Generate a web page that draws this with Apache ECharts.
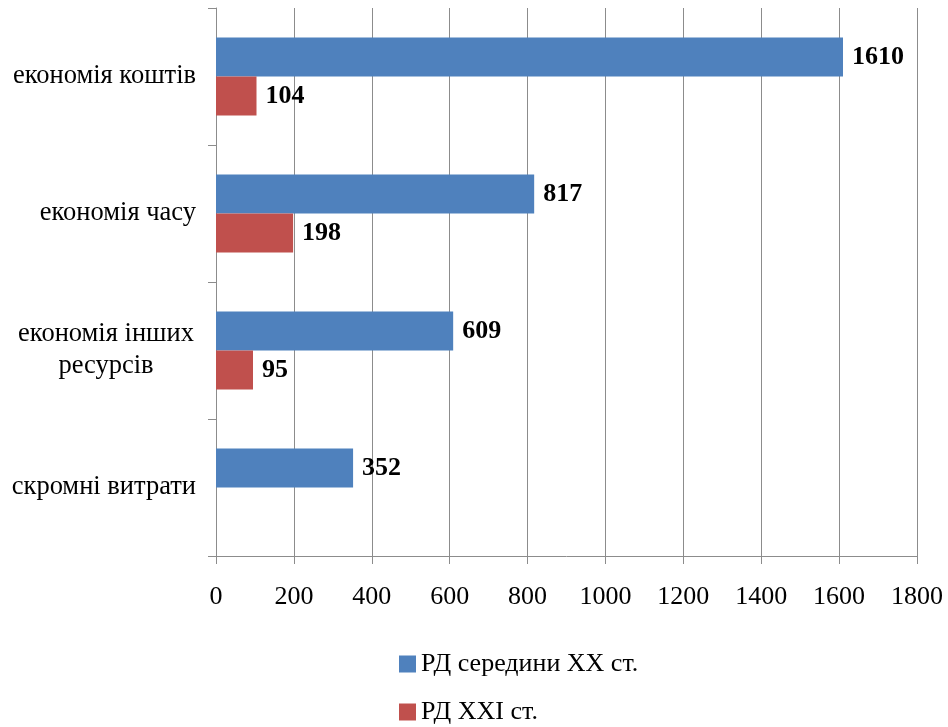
<!DOCTYPE html>
<html>
<head>
<meta charset="utf-8">
<script src="https://cdn.jsdelivr.net/npm/echarts@6/dist/echarts.min.js"></script>
<style>
  html, body { margin: 0; padding: 0; background: #fff; }
  #chart { width: 948px; height: 727px; }
</style>
</head>
<body>
<div id="chart"></div>
<script>
// Categories (top to bottom)
const categories = ['економія коштів', 'економія часу', 'економія інших\nресурсів', 'скромні витрати'];
// Series values
const seriesNames = ['РД середини XX ст.', 'РД XXI ст.'];
const midCentury = [1610, 817, 609, 352];
const century21 = [104, 198, 95, null];
// Value axis ticks
const axisMin = 0;
const axisMax = 1800;
const axisStep = 200;

const FONT = '"Liberation Serif", "Times New Roman", serif';
const GRID_GRAY = '#8c8c8c';
const FS = 26;
const CAT_FS = 26.5;

const chart = echarts.init(document.getElementById('chart'), null, { renderer: 'canvas' });

const labelStyle = {
  show: true,
  position: 'right',
  distance: 9,
  fontFamily: FONT,
  fontSize: FS,
  fontWeight: 'bold',
  color: '#000'
};

chart.setOption({
  animation: false,
  backgroundColor: '#fff',
  grid: { left: 216, right: 31, top: 8, bottom: 171, containLabel: false },
  legend: {
    orient: 'vertical',
    left: 399,
    top: 651,
    padding: 0,
    itemWidth: 17,
    itemHeight: 17,
    itemGap: 22,
    icon: 'rect',
    textStyle: { fontFamily: FONT, fontSize: FS, lineHeight: 26, color: '#000' },
    data: seriesNames
  },
  xAxis: {
    type: 'value',
    min: axisMin,
    max: axisMax,
    interval: axisStep,
    axisLine: { show: true, lineStyle: { color: GRID_GRAY, width: 1 } },
    axisTick: { show: true, length: 8, lineStyle: { color: GRID_GRAY } },
    splitLine: { show: true, lineStyle: { color: GRID_GRAY, width: 1 } },
    axisLabel: {
      fontFamily: FONT, fontSize: FS, color: '#000', margin: 28,
      formatter: function (v) { return String(v); }
    }
  },
  yAxis: {
    type: 'category',
    inverse: true,
    data: categories,
    axisLine: { show: true, lineStyle: { color: GRID_GRAY, width: 1 } },
    axisTick: { show: true, length: 8, lineStyle: { color: GRID_GRAY } },
    axisLabel: {
      fontFamily: FONT,
      fontSize: CAT_FS,
      color: '#000',
      margin: 20,
      lineHeight: 32,
      formatter: function (v) {
        return v.indexOf('\n') >= 0 ? v.split('\n').map(s => '{c|' + s + '}').join('\n') : v;
      },
      rich: {
        c: { width: 180, align: 'center', fontFamily: FONT, fontSize: CAT_FS, color: '#000', lineHeight: 32 }
      }
    }
  },
  series: [
    {
      name: seriesNames[0],
      type: 'bar',
      data: midCentury,
      barWidth: 39,
      barGap: '0%',
      itemStyle: { color: '#4F81BD' },
      label: labelStyle
    },
    {
      name: seriesNames[1],
      type: 'bar',
      data: century21,
      barWidth: 39,
      barGap: '0%',
      itemStyle: { color: '#C0504D' },
      label: labelStyle
    }
  ]
});
</script>
</body>
</html>
